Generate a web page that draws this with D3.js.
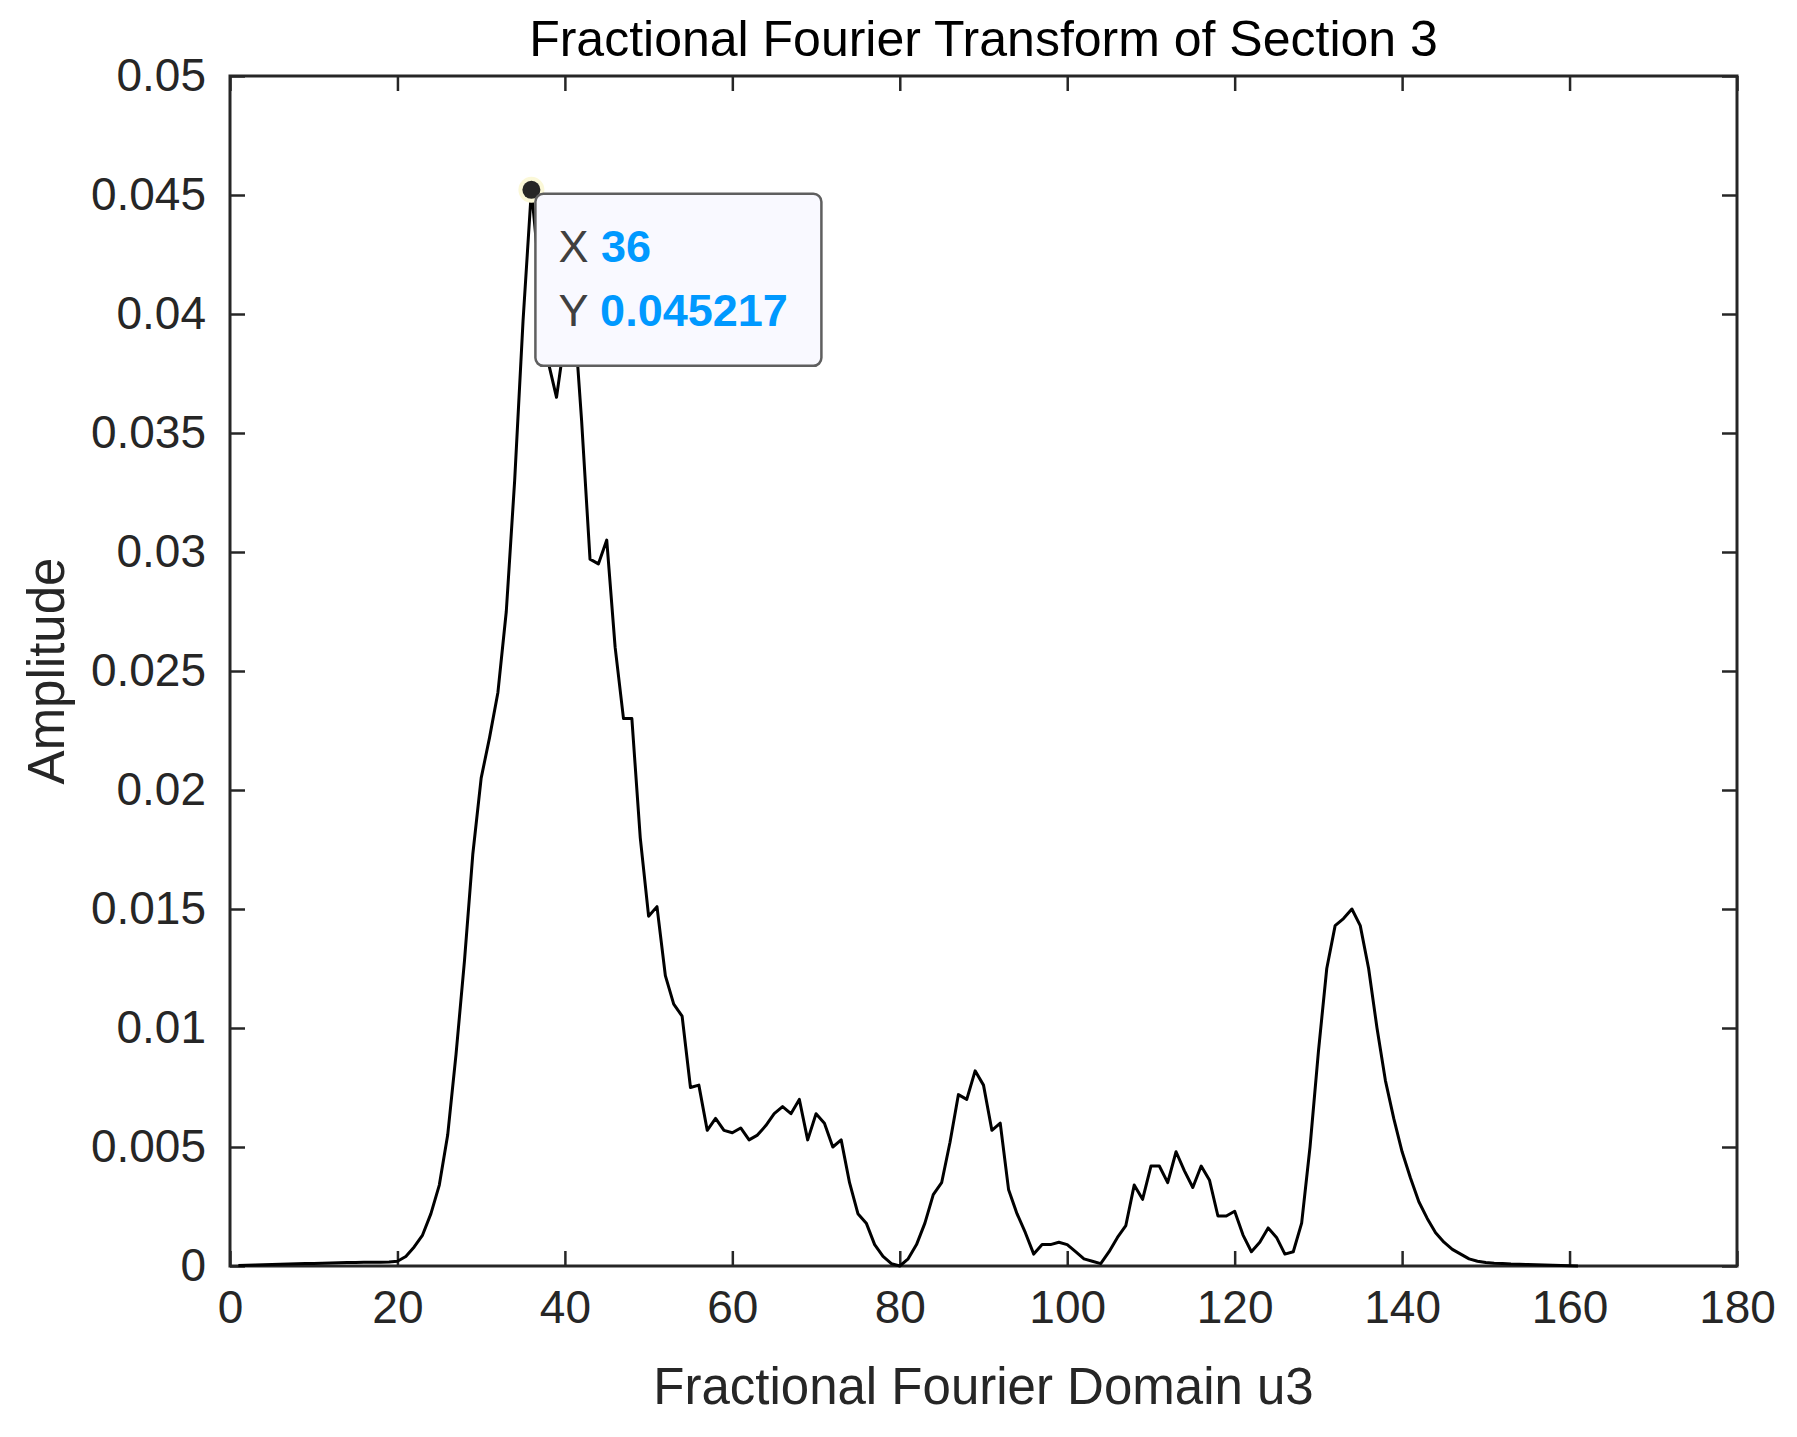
<!DOCTYPE html>
<html><head><meta charset="utf-8">
<script src="https://cdn.jsdelivr.net/npm/d3@7"></script>
<style>body{margin:0;background:#fff}text{font-family:"Liberation Sans",Arial,sans-serif}</style>
</head><body>
<svg id="c" width="1797" height="1437"></svg>
<script>
const uValues = d3.range(1, 162);
const amplitude = [
0.00002,0.00003,0.00004,0.00005,0.00006,0.00007,0.00008,0.00009,0.0001,0.00011,
0.00012,0.00013,0.00014,0.00015,0.00015,0.00016,0.00016,0.00016,0.00017,0.0002,
0.0004,0.0008,0.0013,0.0022,0.0034,0.0055,0.0089,0.0128,0.0173,0.0205,
0.0222,0.0241,0.0275,0.033,0.0397,0.045217,0.0415,0.038,0.0365,0.039,
0.0405,0.0355,0.0297,0.0295,0.0305,0.026,0.023,0.023,0.018,0.0147,
0.0151,0.0122,0.011,0.0105,0.0075,0.0076,0.0057,0.0062,0.0057,0.0056,
0.0058,0.0053,0.0055,0.0059,0.0064,0.0067,0.0064,0.0070,0.0053,0.0064,
0.0060,0.0050,0.0053,0.0035,0.0022,0.0018,0.0009,0.0004,0.0001,0.0,
0.0003,0.0009,0.0018,0.0030,0.0035,0.0052,0.0072,0.0070,0.0082,0.0076,
0.0057,0.0060,0.0032,0.0022,0.0014,0.0005,0.0009,0.0009,0.0010,0.0009,
0.0006,0.0003,0.0002,0.0001,0.0006,0.0012,0.0017,0.0034,0.0028,0.0042,
0.0042,0.0035,0.0048,0.0040,0.0033,0.0042,0.0036,0.0021,0.0021,0.0023,
0.0013,0.0006,0.0010,0.0016,0.0012,0.0005,0.0006,0.0018,0.0050,0.0090,
0.0125,0.0143,0.0146,0.0150,0.0143,0.0125,0.0100,0.0078,0.0062,0.0048,
0.0037,0.0027,0.0020,0.0014,0.0010,0.0007,0.0005,0.0003,0.0002,0.00015,
0.00012,0.0001,0.00008,0.00007,0.00006,0.00005,0.00004,0.00003,0.00002,0.00001,0.0
];
const xTicks = [0,20,40,60,80,100,120,140,160,180];
const yTicks = [0,0.005,0.01,0.015,0.02,0.025,0.03,0.035,0.04,0.045,0.05];
const peak = {u:36, a:0.045217};

const L=230,R=1737,T=76,B=1266, col="#262626";
const svg=d3.select("#c");
const x=d3.scaleLinear().domain([0,180]).range([L,R]);
const y=d3.scaleLinear().domain([0,0.05]).range([B,T]);
const fmt=d => d===0?"0":String(+d.toFixed(3));

function styleAxis(g){g.select(".domain").remove();
  g.selectAll("line").attr("stroke",col).attr("stroke-width",2.5);
  g.selectAll("text").attr("fill",col).attr("font-size",46);}
svg.append("g").attr("transform",`translate(0,${B})`)
  .call(d3.axisBottom(x).tickValues(xTicks).tickSize(-15).tickPadding(24).tickFormat(d3.format("d"))).call(styleAxis);
svg.append("g").attr("transform",`translate(0,${T})`)
  .call(d3.axisTop(x).tickValues(xTicks).tickSize(-15).tickFormat("")).call(styleAxis);
svg.append("g").attr("transform",`translate(${L},0)`)
  .call(d3.axisLeft(y).tickValues(yTicks).tickSize(-15).tickPadding(24).tickFormat(fmt)).call(styleAxis);
svg.append("g").attr("transform",`translate(${R},0)`)
  .call(d3.axisRight(y).tickValues(yTicks).tickSize(-15).tickFormat("")).call(styleAxis);
svg.append("rect").attr("x",L).attr("y",T).attr("width",R-L).attr("height",B-T)
  .attr("fill","none").attr("stroke",col).attr("stroke-width",3);

svg.append("path").datum(uValues.map((u,i)=>[u,amplitude[i]]))
  .attr("d",d3.line().x(d=>x(d[0])).y(d=>y(d[1])))
  .attr("fill","none").attr("stroke","#000").attr("stroke-width",3).attr("stroke-linejoin","round");

const px=x(peak.u), py=y(peak.a);
svg.append("circle").attr("cx",px).attr("cy",py).attr("r",13).attr("fill","#fbf8d8");
svg.append("circle").attr("cx",px).attr("cy",py).attr("r",9).attr("fill","#262626");
const bx=px+4, by=py+4;
svg.append("rect").attr("x",bx).attr("y",by).attr("width",286).attr("height",172).attr("rx",8)
  .attr("fill","#f9f9ff").attr("stroke","#5f5f5f").attr("stroke-width",2.5);
[["X ",String(peak.u),by+68],["Y ",String(peak.a),by+132]].forEach(([k,v,yy])=>{
  const t=svg.append("text").attr("x",bx+23).attr("y",yy).attr("font-size",45);
  t.append("tspan").attr("fill","#404040").text(k);
  t.append("tspan").attr("fill","#0099ff").attr("font-weight","bold").text(v);
});

svg.append("text").attr("x",(L+R)/2).attr("y",1404).attr("text-anchor","middle").attr("font-size",51).attr("fill",col)
  .text("Fractional Fourier Domain u3");
svg.append("text").attr("transform",`translate(64,${(T+B)/2}) rotate(-90)`).attr("text-anchor","middle").attr("font-size",51).attr("fill",col)
  .text("Amplitude");
svg.append("text").attr("x",(L+R)/2).attr("y",56).attr("text-anchor","middle").attr("font-size",50).attr("fill","#000")
  .text("Fractional Fourier Transform of Section 3");
</script></body></html>
